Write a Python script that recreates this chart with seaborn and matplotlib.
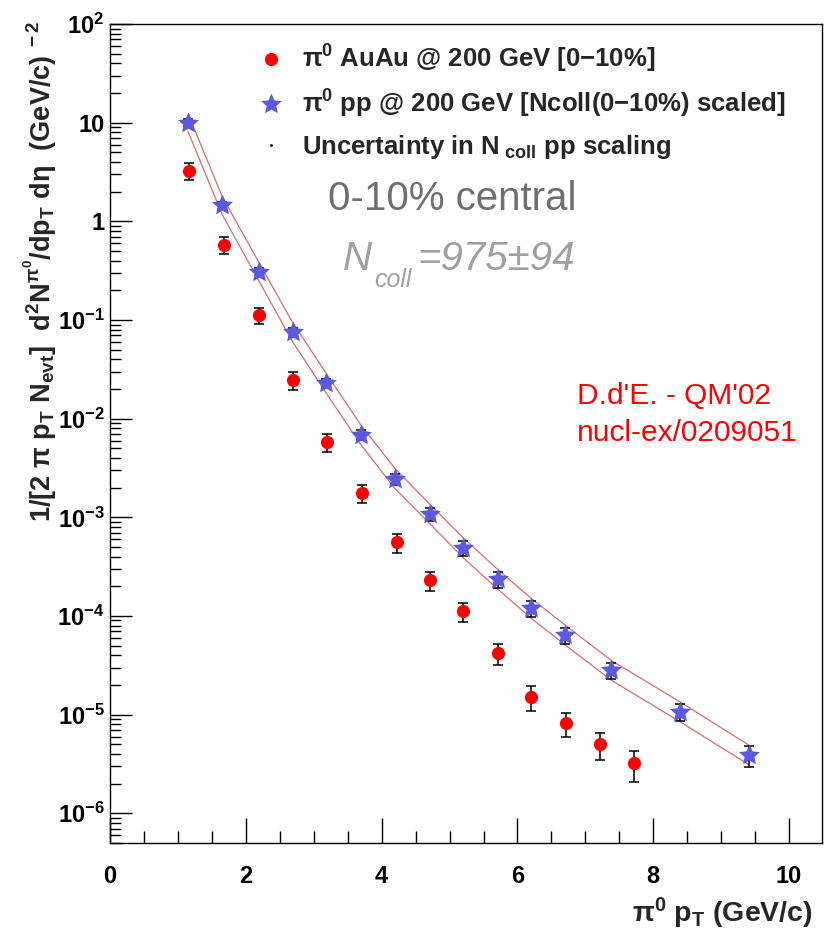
import numpy as np
import pandas as pd
import matplotlib
matplotlib.use("Agg")
import matplotlib.pyplot as plt
import seaborn as sns
from matplotlib.lines import Line2D
from matplotlib.path import Path
from matplotlib.ticker import LogLocator, MultipleLocator, NullFormatter

# ---------------- data ----------------
auau_pt = [1.17, 1.68, 2.19, 2.69, 3.20, 3.71, 4.23, 4.71, 5.20, 5.71, 6.20, 6.72, 7.22, 7.72]
auau_yield = [3.27, 0.578, 0.112, 0.0246, 0.0058, 0.00176, 5.6e-4, 2.3e-4, 1.12e-4,
              4.2e-5, 1.51e-5, 8.2e-6, 5.0e-6, 3.2e-6]
auau_relerr = [0.19, 0.19, 0.19, 0.20, 0.20, 0.20, 0.22, 0.22, 0.22, 0.25, 0.28, 0.28, 0.30, 0.35]

pp_pt = [1.15, 1.65, 2.19, 2.69, 3.18, 3.69, 4.20, 4.71, 5.20, 5.71, 6.20, 6.70, 7.38, 8.39, 9.41]
pp_yield = [10.0, 1.46, 0.31, 0.0755, 0.0231, 0.0069, 0.00245, 1.08e-3, 4.93e-4,
            2.35e-4, 1.2e-4, 6.4e-5, 2.82e-5, 1.07e-5, 3.9e-6]
pp_relerr = [0.08, 0.08, 0.09, 0.10, 0.10, 0.11, 0.13, 0.15, 0.17, 0.19, 0.19, 0.19, 0.19, 0.20, 0.24]

band_pt = [1.15, 1.65, 2.19, 2.69, 3.18, 3.69, 4.20, 4.71, 5.20, 5.71, 6.20, 6.70, 7.38, 8.39, 9.41]
band_hi = [12.3, 1.80, 0.385, 0.094, 0.029, 0.0087, 0.0031, 1.36e-3, 6.2e-4,
           2.96e-4, 1.51e-4, 8.1e-5, 3.55e-5, 1.35e-5, 4.9e-6]
band_lo = [8.1, 1.18, 0.25, 0.060, 0.0183, 0.0055, 0.00194, 8.6e-4, 3.9e-4,
           1.87e-4, 9.5e-5, 5.1e-5, 2.24e-5, 8.5e-6, 3.1e-6]

xtick_vals = [0, 2, 4, 6, 8, 10]
xtick_labels = ["0", "2", "4", "6", "8", "10"]
ytick_vals = [1e-6, 1e-5, 1e-4, 1e-3, 1e-2, 1e-1, 1, 10, 100]
ytick_labels = [r"$10^{-6}$", r"$10^{-5}$", r"$10^{-4}$", r"$10^{-3}$", r"$10^{-2}$",
                r"$10^{-1}$", "1", "10", r"$10^{2}$"]

legend_labels = [r"$\pi^{0}$ AuAu @ 200 GeV [0−10%]",
                 r"$\pi^{0}$ pp @ 200 GeV [Ncoll(0−10%) scaled]",
                 r"Uncertainty in N$_{\ coll}$ pp scaling"]

# ---------------- style ----------------
sns.set_theme(style="white")
plt.rcParams["font.family"] = ["Liberation Sans", "DejaVu Sans"]
plt.rcParams["mathtext.fontset"] = "custom"
plt.rcParams["mathtext.rm"] = "Liberation Sans:bold"
plt.rcParams["mathtext.bf"] = "Liberation Sans:bold"
plt.rcParams["mathtext.it"] = "Liberation Sans:italic"
plt.rcParams["mathtext.sf"] = "Liberation Sans"
plt.rcParams["mathtext.default"] = "bf"

RED = "#ff0000"
BLUE = "#5a5ae0"
BAND = "#e06a6a"

# fat five-pointed star marker (ROOT style 29)
ang = np.pi / 2 + np.arange(10) * np.pi / 5
rad = np.where(np.arange(10) % 2 == 0, 1.0, 0.47)
star_verts = np.column_stack([rad * np.cos(ang), rad * np.sin(ang)])
star_verts = np.vstack([star_verts, star_verts[:1]])
star_marker = Path(star_verts, closed=True)

fig = plt.figure(figsize=(8.25, 9.4), dpi=100)
ax = fig.add_axes([110 / 825, 1 - 843 / 940, (821.7 - 110) / 825, (843 - 24) / 940])
ax.set_yscale("log")

auau = pd.DataFrame({"pt": auau_pt, "y": auau_yield, "rel": auau_relerr})
pp = pd.DataFrame({"pt": pp_pt, "y": pp_yield, "rel": pp_relerr})
band = pd.DataFrame({"pt": band_pt, "hi": band_hi, "lo": band_lo})

# Ncoll band
sns.lineplot(data=band, x="pt", y="hi", color=BAND, lw=0.9, ax=ax, sort=False,
             estimator=None, zorder=1)
sns.lineplot(data=band, x="pt", y="lo", color=BAND, lw=0.9, ax=ax, sort=False,
             estimator=None, zorder=1)

# error bars
ax.errorbar(auau["pt"], auau["y"], yerr=auau["y"] * auau["rel"], fmt="none",
            ecolor="black", elinewidth=1.1, capsize=3.3, capthick=1.1, zorder=2)
ax.errorbar(pp["pt"], pp["y"], yerr=pp["y"] * pp["rel"], fmt="none",
            ecolor="black", elinewidth=1.1, capsize=3.3, capthick=1.1, zorder=2)

# markers
sns.scatterplot(data=auau, x="pt", y="y", marker="o", s=90, color=RED,
                edgecolor=RED, linewidth=0, ax=ax, zorder=3, legend=False)
sns.scatterplot(data=pp, x="pt", y="y", marker=star_marker, s=250, color=BLUE,
                edgecolor=BLUE, linewidth=0, ax=ax, zorder=3, legend=False)

# axes
ax.set_xlim(0, 10.48)
ax.set_ylim(5e-7, 100)
ax.set_xlabel("")
ax.set_ylabel("")
ax.set_xticks(xtick_vals, labels=xtick_labels)
ax.set_yticks(ytick_vals, labels=ytick_labels)
ax.xaxis.set_minor_locator(MultipleLocator(0.5))
ax.yaxis.set_minor_locator(LogLocator(base=10, subs=np.arange(2, 10), numticks=100))
ax.yaxis.set_minor_formatter(NullFormatter())
ax.tick_params(axis="both", which="both", direction="in", top=False, right=False,
               bottom=True, left=True, colors="black", width=1.0, labelsize=17)
ax.tick_params(axis="y", which="major", length=15.8, pad=4)
ax.tick_params(axis="y", which="minor", length=7.7)
ax.tick_params(axis="x", which="major", length=18, pad=16)
ax.tick_params(axis="x", which="minor", length=8.6)
for lab in ax.get_xticklabels() + ax.get_yticklabels():
    lab.set_fontweight("bold")
for sp in ax.spines.values():
    sp.set_visible(True)
    sp.set_color("black")
    sp.set_linewidth(1.0)
ax.grid(False)

# legend (ROOT style, no frame)
handles = [
    Line2D([], [], ls="none", marker="o", ms=9.5, color=RED, mec=RED, mew=0),
    Line2D([], [], ls="none", marker=star_marker, ms=15.5, color=BLUE, mec=BLUE, mew=0),
    Line2D([], [], ls="none", marker=".", ms=2, color="black"),
]
ax.legend(handles, legend_labels, loc="upper left", bbox_to_anchor=(258 / 825, 1 - 43 / 940),
          bbox_transform=fig.transFigure, frameon=False,
          prop={"family": "Liberation Sans", "weight": "bold", "size": 18.5},
          handlelength=1.0, handletextpad=0.7, labelspacing=0.5, borderpad=0,
          borderaxespad=0)

# annotations
fig.text(328 / 825, 1 - 210 / 940, "0-10% central", color="#6e6e6e", fontsize=29,
         ha="left", va="baseline")
ncoll_kw = dict(color="#a0a0a0", ha="left", va="baseline", style="italic")
fig.text(343 / 825, 1 - 270 / 940, "N", fontsize=29, **ncoll_kw)
fig.text(374 / 825, 1 - 287 / 940, "coll", fontsize=18, **ncoll_kw)
fig.text(417 / 825, 1 - 270 / 940, "=975±94", fontsize=29, **ncoll_kw)
fig.text(577 / 825, 1 - 396 / 940, "D.d'E. - QM'02", color=RED, fontsize=21.5,
         ha="left", va="center")
fig.text(577 / 825, 1 - 433 / 940, "nucl-ex/0209051", color=RED, fontsize=21.5,
         ha="left", va="center")

# axis titles
fig.text(40 / 825, 1 - 20 / 940,
         r"1/[2 $\pi$ p$_{T}$ N$_{evt}$]  d$^{2}$N$^{\pi^{0}}$/dp$_{T}$ d$\eta$  (GeV/c)$^{\ -2}$",
         rotation=90, ha="center", va="top", fontsize=19.5, fontweight="bold")
fig.text(813 / 825, 1 - 913 / 940, r"$\pi^{0}$ p$_{T}$ (GeV/c)", ha="right",
         va="center", fontsize=20.5, fontweight="bold")

fig.savefig("out.png", dpi=100, facecolor="white")
